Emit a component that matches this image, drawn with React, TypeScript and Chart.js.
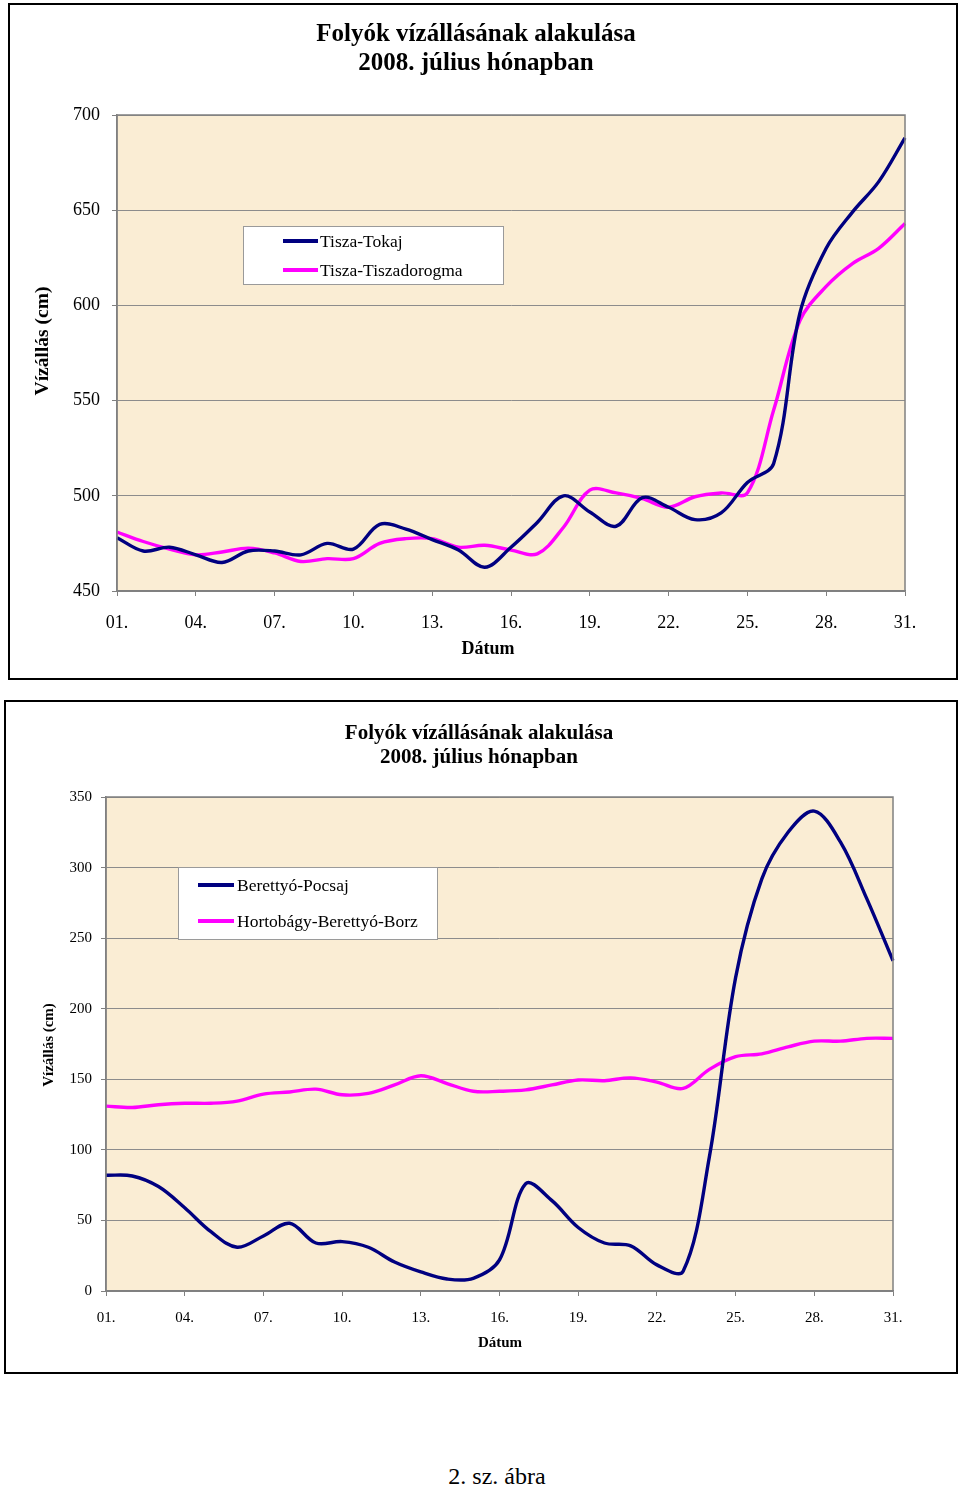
import React, { useEffect, useRef } from 'react';
import { Chart, registerables } from 'chart.js';

Chart.register(...registerables);

// ---------- data ----------
const dayLabels = [
  '01.', '02.', '03.', '04.', '05.', '06.', '07.', '08.', '09.', '10.',
  '11.', '12.', '13.', '14.', '15.', '16.', '17.', '18.', '19.', '20.',
  '21.', '22.', '23.', '24.', '25.', '26.', '27.', '28.', '29.', '30.', '31.',
];

const chartTitle = ['Folyók vízállásának alakulása', '2008. július hónapban'];
const xAxisTitle = 'Dátum';
const yAxisTitle = 'Vízállás (cm)';
const caption = '2. sz. ábra';

const seriesNames1 = ['Tisza-Tokaj', 'Tisza-Tiszadorogma'];
const tiszaTokaj = [
  478, 471, 473, 469, 465, 471, 471, 469, 475, 472,
  485, 482.5, 477, 471.5, 462.5, 473, 486, 500, 491.5, 484,
  499, 494, 487.5, 491, 507, 517, 596, 630, 649, 665, 688,
];
const tiszaTiszadorogma = [
  481, 476, 472, 469, 470.5, 472.5, 470, 465.5, 467, 467,
  475, 477.5, 477.5, 473, 474, 471.5, 469.5, 483.5, 503, 501.5,
  498.5, 494, 499.5, 501.5, 501.5, 545, 592, 610, 622, 630, 643,
];
const yRange1 = { min: 450, max: 700, step: 50 };

const seriesNames2 = ['Berettyó-Pocsaj', 'Hortobágy-Berettyó-Borz'];
const berettyoPocsaj = [
  82, 81.5, 74, 59, 42, 31, 39, 48, 34, 35,
  31, 20.5, 13.5, 8.5, 9, 22, 76, 64, 45, 34,
  32, 18.5, 14, 95, 222, 292, 325, 340, 318, 278, 234,
];
const hortobagyBorz = [
  131, 130, 132, 133, 133, 134.5, 139.5, 141, 143, 139,
  140, 146, 152.5, 147, 141.5, 141.5, 142.5, 146, 149.5, 149,
  151, 148, 143.5, 157, 166, 168, 173, 177, 177, 179, 179,
];
const yRange2 = { min: 0, max: 350, step: 50 };

const seriesColors = ['#000080', '#FF00FF'];

// ---------- drawing helpers ----------
const SERIF = '"Liberation Serif", "Times New Roman", serif';

const decorPlugin = {
  id: 'decor',
  beforeDraw(chart: any, _args: any, o: any) {
    const { ctx, chartArea: a } = chart;
    ctx.save();
    ctx.fillStyle = o.bg;
    ctx.fillRect(a.left, a.top, a.right - a.left, a.bottom - a.top);
    ctx.restore();
  },
  afterDatasetsDraw(chart: any, _args: any, o: any) {
    const { ctx, chartArea: a } = chart;
    ctx.save();
    ctx.strokeStyle = '#808080';
    ctx.lineWidth = 1.5;
    ctx.strokeRect(a.left, a.top, a.right - a.left, a.bottom - a.top);
    const L = o.legend;
    ctx.fillStyle = '#ffffff';
    ctx.fillRect(L.x, L.y, L.w, L.h);
    ctx.strokeStyle = '#9a9a9a';
    ctx.lineWidth = 1;
    ctx.strokeRect(L.x + 0.5, L.y + 0.5, L.w, L.h);
    ctx.font = `${L.size}px ${SERIF}`;
    ctx.textBaseline = 'middle';
    ctx.textAlign = 'left';
    chart.data.datasets.forEach((ds: any, i: number) => {
      const y = L.rows[i];
      ctx.strokeStyle = ds.borderColor;
      ctx.lineWidth = 4;
      ctx.beginPath();
      ctx.moveTo(L.x1, y);
      ctx.lineTo(L.x2, y);
      ctx.stroke();
      ctx.fillStyle = '#000000';
      ctx.fillText(ds.label, L.tx, y + 1);
    });
    ctx.restore();
  },
  afterDraw(chart: any, _args: any, o: any) {
    const { ctx } = chart;
    ctx.save();
    ctx.fillStyle = '#000000';
    ctx.textAlign = 'center';
    ctx.textBaseline = 'middle';
    ctx.font = `bold ${o.titleSize}px ${SERIF}`;
    o.title.forEach((line: string, i: number) => {
      ctx.fillText(line, o.titleX, o.titleY[i]);
    });
    ctx.font = `bold ${o.xTitleSize}px ${SERIF}`;
    ctx.fillText(xAxisTitle, o.xTitleX, o.xTitleY);
    ctx.translate(o.yTitleX, o.yTitleY);
    ctx.rotate(-Math.PI / 2);
    ctx.font = `bold ${o.yTitleSize}px ${SERIF}`;
    ctx.fillText(yAxisTitle, 0, 0);
    ctx.restore();
  },
};

function buildConfig(p: any) {
  return {
    type: 'line',
    data: {
      labels: dayLabels,
      datasets: p.series.map((s: any, i: number) => ({
        label: s.name,
        data: s.values,
        borderColor: seriesColors[i],
        backgroundColor: seriesColors[i],
        borderWidth: 3.4,
        pointRadius: 0,
        tension: 0.35,
        fill: false,
      })),
    },
    options: {
      responsive: false,
      animation: false,
      events: [],
      layout: { padding: p.padding },
      plugins: {
        legend: { display: false },
        title: { display: false },
        tooltip: { enabled: false },
        decor: p.decor,
      },
      scales: {
        x: {
          type: 'category',
          offset: false,
          afterFit: (s: any) => { s.height = 40; },
          border: { display: true, color: '#808080', width: 1.5 },
          grid: {
            drawOnChartArea: false,
            drawTicks: true,
            tickLength: 5,
            tickColor: (c: any) => (c.index % 3 === 0 ? '#808080' : 'rgba(0,0,0,0)'),
          },
          ticks: {
            autoSkip: false,
            maxRotation: 0,
            color: '#000000',
            padding: p.xPad,
            font: { family: SERIF, size: p.tickSize },
            callback: (_v: any, i: number) => (i % 3 === 0 ? dayLabels[i] : ''),
          },
        },
        y: {
          min: p.y.min,
          max: p.y.max,
          afterFit: (s: any) => { s.width = 60; },
          border: { display: true, color: '#808080', width: 1.5 },
          grid: {
            color: '#8c8c8c',
            lineWidth: 1,
            drawTicks: true,
            tickLength: 5,
            tickColor: '#808080',
          },
          ticks: {
            stepSize: p.y.step,
            color: '#000000',
            padding: p.yPad,
            font: { family: SERIF, size: p.tickSize },
          },
        },
      },
    },
    plugins: [decorPlugin],
  };
}

function Panel({ frame, params }: any) {
  const ref = useRef<HTMLCanvasElement | null>(null);
  useEffect(() => {
    const chart = new Chart(ref.current as any, buildConfig(params) as any);
    return () => chart.destroy();
  }, []);
  return (
    <div
      style={{
        position: 'absolute',
        left: frame.x,
        top: frame.y,
        width: frame.w,
        height: frame.h,
        border: '2px solid #000',
        boxSizing: 'border-box',
        background: '#fff',
      }}
    >
      <canvas ref={ref} width={frame.w - 4} height={frame.h - 4} style={{ display: 'block' }} />
    </div>
  );
}

const params1 = {
  series: [
    { name: seriesNames1[0], values: tiszaTokaj },
    { name: seriesNames1[1], values: tiszaTiszadorogma },
  ],
  y: yRange1,
  padding: { left: 47, top: 110, right: 51, bottom: 47 },
  tickSize: 18,
  xPad: 16,
  yPad: 12,
  decor: {
    bg: '#FAEDD4',
    title: chartTitle,
    titleSize: 25,
    titleX: 466,
    titleY: [30, 59],
    xTitleSize: 18,
    xTitleX: 478,
    xTitleY: 644,
    yTitleSize: 19.5,
    yTitleX: 33,
    yTitleY: 336,
    legend: { x: 233, y: 221, w: 260, h: 58, x1: 273, x2: 308, tx: 310, rows: [236, 265], size: 17.5 },
  },
};

const params2 = {
  series: [
    { name: seriesNames2[0], values: berettyoPocsaj },
    { name: seriesNames2[1], values: hortobagyBorz },
  ],
  y: yRange2,
  padding: { left: 40, top: 95, right: 63, bottom: 41 },
  tickSize: 15,
  xPad: 13,
  yPad: 9,
  decor: {
    bg: '#FAEDD4',
    title: chartTitle,
    titleSize: 21,
    titleX: 473,
    titleY: [32, 56],
    xTitleSize: 15,
    xTitleX: 494,
    xTitleY: 641,
    yTitleSize: 15,
    yTitleX: 43,
    yTitleY: 343,
    legend: { x: 172, y: 165, w: 259, h: 72, x1: 192, x2: 228, tx: 231, rows: [183, 219], size: 17.5 },
  },
};

export default function App() {
  return (
    <div style={{ position: 'absolute', left: 0, top: 0, width: 960, height: 1487, background: '#fff' }}>
      <Panel frame={{ x: 8, y: 3, w: 950, h: 677 }} params={params1} />
      <Panel frame={{ x: 4, y: 700, w: 954, h: 674 }} params={params2} />
      <div
        style={{
          position: 'absolute',
          left: 397,
          top: 1462,
          width: 200,
          textAlign: 'center',
          fontFamily: SERIF,
          fontSize: 24,
          lineHeight: '28px',
          color: '#000',
        }}
      >
        {caption}
      </div>
    </div>
  );
}
